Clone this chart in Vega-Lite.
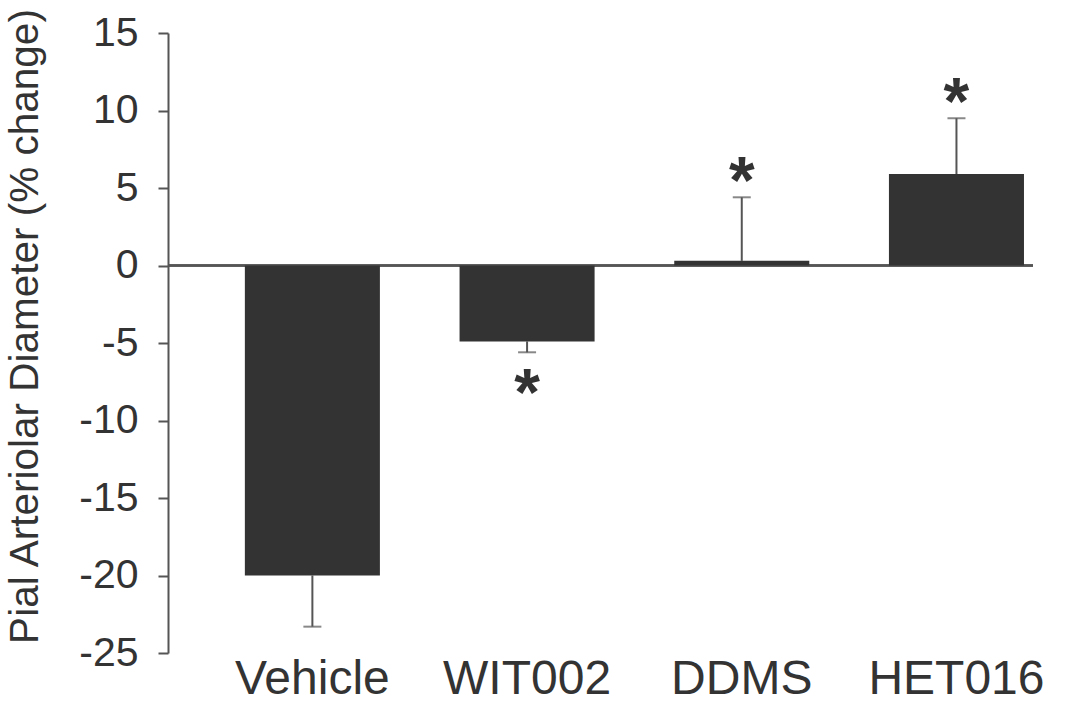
{
  "$schema": "https://vega.github.io/schema/vega-lite/v6.json",
  "width": 865,
  "height": 620,
  "autosize": {"type": "none"},
  "padding": {"left": 168, "top": 33, "right": 35, "bottom": 50},
  "background": "white",
  "config": {"view": {"stroke": null}, "font": "Liberation Sans"},
  "data": {
    "values": [
      {"group": "Vehicle", "value": -20.0, "err": -23.3, "sig": "none"},
      {"group": "WIT002", "value": -4.9, "err": -5.6, "sig": "below"},
      {"group": "DDMS", "value": 0.3, "err": 4.4, "sig": "above"},
      {"group": "HET016", "value": 5.9, "err": 9.5, "sig": "above"}
    ]
  },
  "encoding": {
    "x": {
      "field": "group",
      "type": "nominal",
      "sort": null,
      "scale": {"paddingInner": 0.371, "paddingOuter": 0.2, "align": 0.895},
      "axis": {
        "title": null,
        "domain": false,
        "ticks": false,
        "labelAngle": 0,
        "labelFontSize": 48,
        "labelColor": "#333333",
        "labelPadding": 2
      }
    }
  },
  "layer": [
    {
      "mark": {"type": "rule", "color": "#555555", "strokeWidth": 2},
      "encoding": {
        "x": null,
        "y": {"datum": 0, "type": "quantitative"}
      }
    },
    {
      "mark": {"type": "rule", "color": "#555555", "strokeWidth": 2},
      "encoding": {
        "y": {"field": "value", "type": "quantitative"},
        "y2": {"field": "err"}
      }
    },
    {
      "mark": {"type": "tick", "color": "#555555", "size": 18, "thickness": 2},
      "encoding": {
        "y": {"field": "err", "type": "quantitative"}
      }
    },
    {
      "mark": {"type": "bar", "color": "#333333"},
      "encoding": {
        "y": {
          "field": "value",
          "type": "quantitative",
          "scale": {"domain": [-25, 15], "nice": false, "zero": false},
          "axis": {
            "title": "Pial Arteriolar Diameter (% change)",
            "titleFontSize": 40.5,
            "titleFontWeight": "normal",
            "titleColor": "#333333",
            "titlePadding": 32,
            "titleY": 293,
            "values": [-25, -20, -15, -10, -5, 0, 5, 10, 15],
            "labelExpr": "'' + datum.value",
            "grid": false,
            "domainColor": "#555555",
            "domainWidth": 2,
            "tickColor": "#555555",
            "tickWidth": 2,
            "tickSize": 10,
            "labelFontSize": 41,
            "labelColor": "#333333",
            "labelPadding": 20
          }
        }
      }
    },
    {
      "transform": [{"filter": "datum.sig == 'above'"}],
      "mark": {"type": "text", "text": "*", "fontSize": 66, "fontWeight": "bold", "color": "#333333", "baseline": "alphabetic", "dy": 6},
      "encoding": {
        "y": {"field": "err", "type": "quantitative"}
      }
    },
    {
      "transform": [{"filter": "datum.sig == 'below'"}],
      "mark": {"type": "text", "text": "*", "fontSize": 66, "fontWeight": "bold", "color": "#333333", "baseline": "alphabetic", "dy": 63},
      "encoding": {
        "y": {"field": "err", "type": "quantitative"}
      }
    }
  ]
}
